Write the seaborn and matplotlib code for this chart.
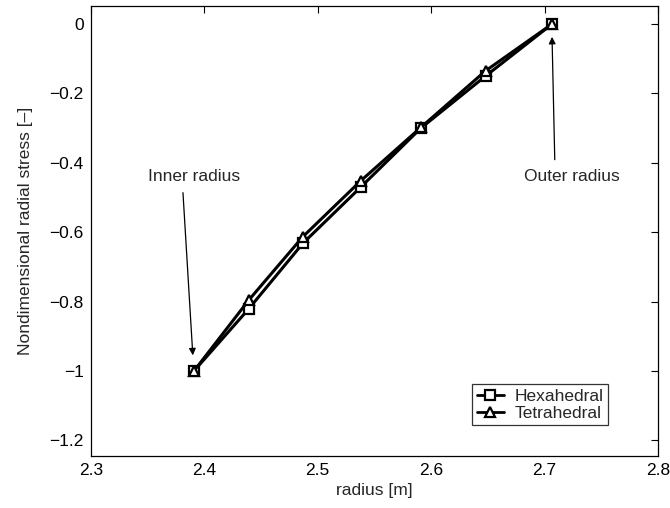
import matplotlib
matplotlib.use("Agg")
import matplotlib.pyplot as plt
import seaborn as sns
import pandas as pd

radius = [2.391, 2.4395, 2.487, 2.538, 2.591, 2.648, 2.7066]
hexa = [-1.0, -0.82, -0.632, -0.47, -0.30, -0.15, 0.0]
tetra = [-1.0, -0.795, -0.613, -0.452, -0.298, -0.135, 0.0]
series_names = ["Hexahedral", "Tetrahedral"]

sns.set_style("white")
plt.rcParams["font.family"] = ["Liberation Sans", "DejaVu Sans"]

df = pd.concat([
    pd.DataFrame({"radius": radius, "stress": hexa, "mesh": series_names[0]}),
    pd.DataFrame({"radius": radius, "stress": tetra, "mesh": series_names[1]}),
])

fig = plt.figure(figsize=(6.7, 5.08), dpi=100)
ax = fig.add_axes([0.1354, 0.1024, 0.8467, 0.8858])

sns.lineplot(data=df, x="radius", y="stress", hue="mesh", style="mesh",
             markers={"Hexahedral": "s", "Tetrahedral": "^"}, dashes=False,
             palette={"Hexahedral": "black", "Tetrahedral": "black"},
             linewidth=2.2, markersize=7, markerfacecolor="white",
             markeredgecolor="black", markeredgewidth=1.6, ax=ax)

ax.set_xlim(2.3, 2.8)
ax.set_ylim(-1.245, 0.052)
ax.set_xticks([2.3, 2.4, 2.5, 2.6, 2.7, 2.8])
ax.set_xticklabels(["2.3", "2.4", "2.5", "2.6", "2.7", "2.8"])
ax.set_yticks([0, -0.2, -0.4, -0.6, -0.8, -1, -1.2])
ax.set_yticklabels(["0", "\u22120.2", "\u22120.4", "\u22120.6", "\u22120.8", "\u22121", "\u22121.2"])
ax.tick_params(direction="in", top=True, right=True, length=5, width=0.8,
               labelsize=12.5, colors="black", pad=5)
for s in ax.spines.values():
    s.set_color("black")
    s.set_linewidth(0.9)
ax.set_xlabel("radius [m]", fontsize=12.5, labelpad=4)
ax.set_ylabel("Nondimensional radial stress [\u2013]", fontsize=12.5, labelpad=12)

ax.text(2.391, -0.44, "Inner radius", ha="center", va="center", fontsize=12.5)
ax.text(2.724, -0.44, "Outer radius", ha="center", va="center", fontsize=12.5)
arrow = dict(arrowstyle="-|>", color="black", lw=0.9,
             shrinkA=0, shrinkB=0, mutation_scale=10)
ax.annotate("", xy=(2.390, -0.955), xytext=(2.3813, -0.486), arrowprops=arrow)
ax.annotate("", xy=(2.7066, -0.037), xytext=(2.709, -0.391), arrowprops=arrow)

leg = ax.legend(loc="lower right", bbox_to_anchor=(0.912, 0.069), fontsize=12.5,
                frameon=True, fancybox=False, edgecolor="black",
                borderaxespad=0, handlelength=1.6, borderpad=0.25,
                labelspacing=0.1, handletextpad=0.6)
leg.get_frame().set_linewidth(0.9)
for h in leg.legend_handles:
    h.set_linewidth(2.0)
    h.set_markerfacecolor("white")
    h.set_markeredgecolor("black")

fig.savefig("out.png", dpi=100)
